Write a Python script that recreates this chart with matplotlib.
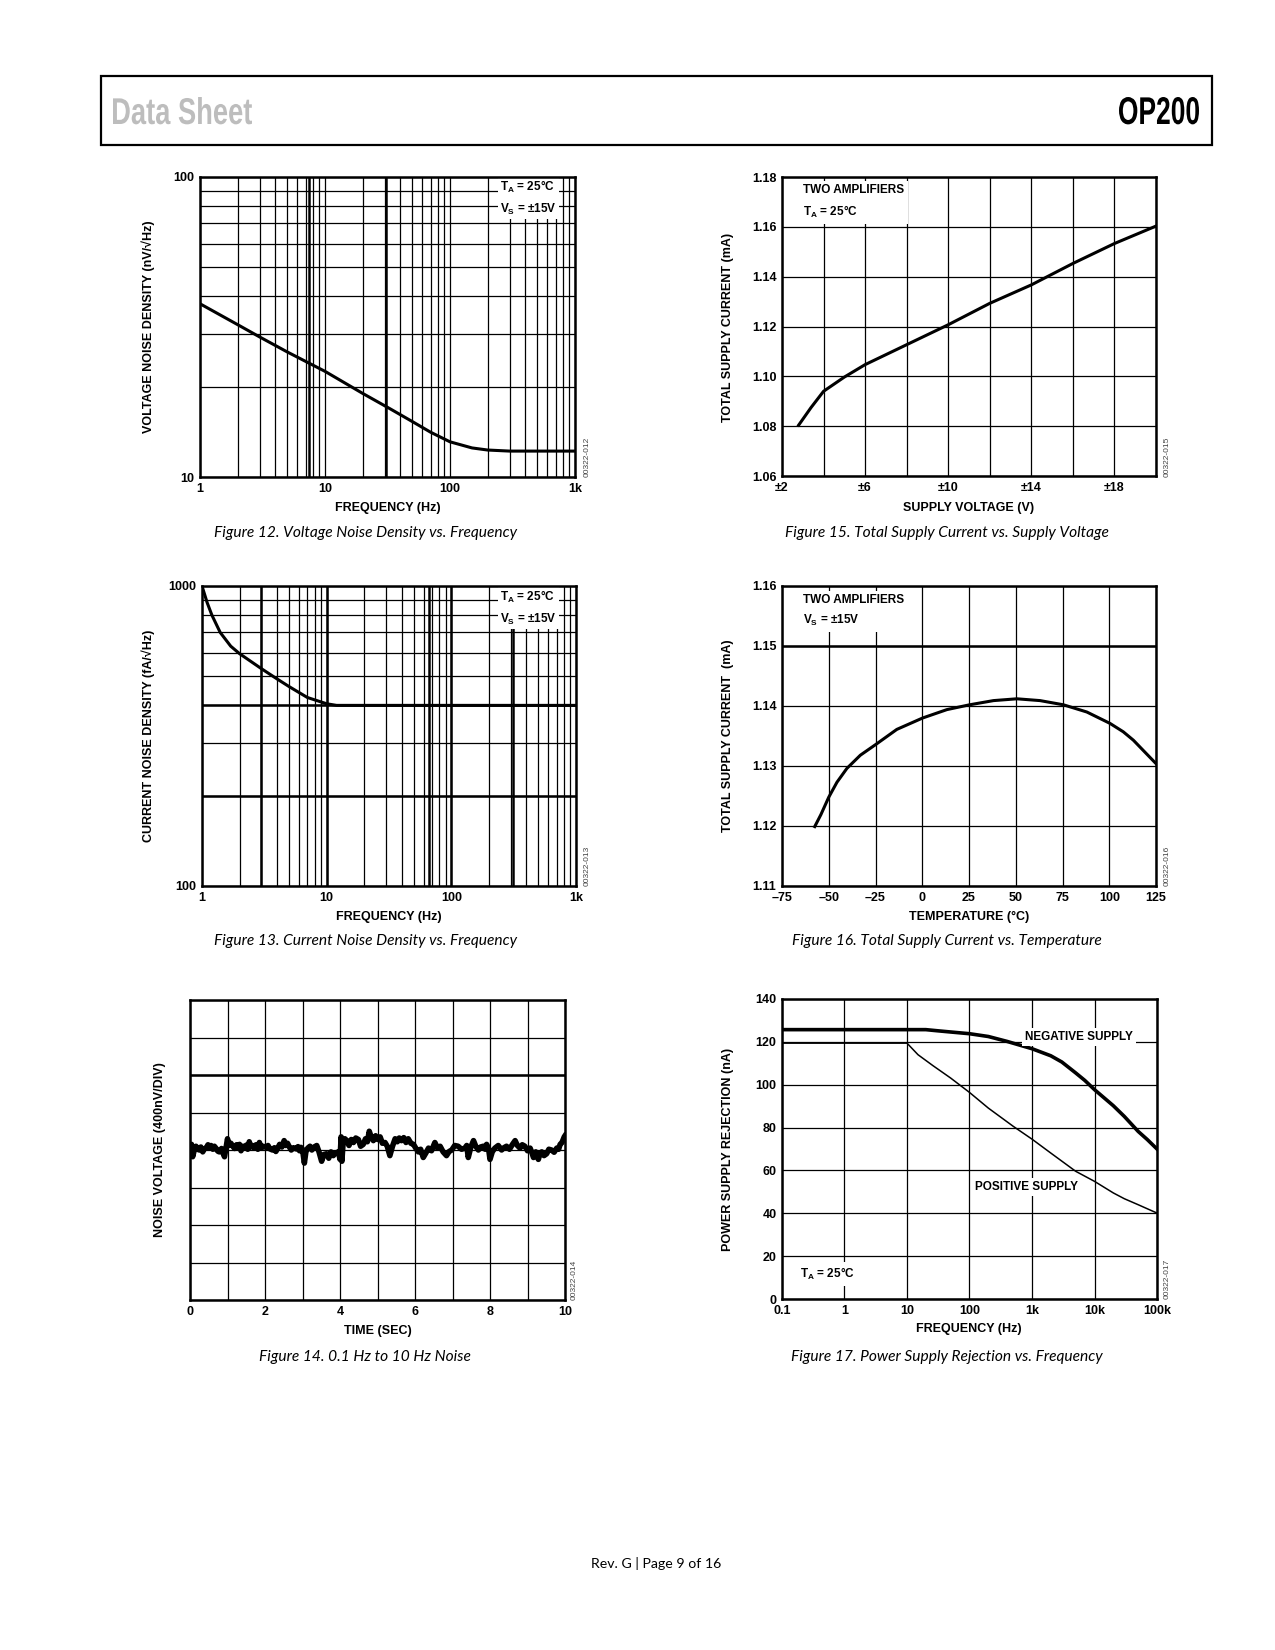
import numpy as np
import matplotlib
matplotlib.use('Agg')
import matplotlib.pyplot as plt
from matplotlib.ticker import LogLocator, NullFormatter, MultipleLocator
from matplotlib.textpath import TextPath
from matplotlib.patches import PathPatch, Rectangle
from matplotlib.font_manager import FontProperties
from matplotlib.transforms import Affine2D

W, H = 1275, 1650

plt.rcParams['font.family'] = ['Liberation Sans', 'DejaVu Sans']
plt.rcParams['mathtext.fontset'] = 'custom'
plt.rcParams['mathtext.rm'] = 'Liberation Sans:bold'
plt.rcParams['mathtext.bf'] = 'Liberation Sans:bold'
plt.rcParams['mathtext.it'] = 'Liberation Sans:bold'

# Figure 12 - voltage noise density
vn_freq = [1, 2, 3, 5, 8, 10, 20, 33, 50, 70, 100, 150, 200, 300, 500, 1000]
vn_dens = [37.8, 32.2, 29.3, 26.1, 23.6, 22.5, 19.0, 16.9, 15.3, 14.1, 13.1, 12.5, 12.3, 12.2, 12.2, 12.2]

# Figure 13 - current noise density
in_freq = [1, 1.1, 1.2, 1.4, 1.7, 2, 3, 4, 5, 7, 10, 12, 20, 100, 1000]
in_dens = [1000, 880, 800, 700, 630, 595, 530, 490, 462, 425, 405, 400, 400, 400, 400]

# Figure 14 - 0.1 Hz to 10 Hz noise (in divisions)
noise_t = [0.00, 0.04, 0.07, 0.11, 0.16, 0.20, 0.25, 0.29, 0.34, 0.38,
           0.43, 0.48, 0.52, 0.56, 0.61, 0.65, 0.69, 0.74, 0.78, 0.84,
           0.88, 0.92, 0.96, 1.00, 1.04, 1.09, 1.14, 1.19, 1.24, 1.28,
           1.32, 1.36, 1.41, 1.45, 1.50, 1.54, 1.58, 1.62, 1.67, 1.72,
           1.76, 1.81, 1.85, 1.90, 1.95, 2.03, 2.08, 2.13, 2.20, 2.25,
           2.29, 2.34, 2.39, 2.45, 2.51, 2.55, 2.60, 2.65, 2.70, 2.76,
           2.83, 2.88, 2.92, 2.96, 3.00, 3.05, 3.09, 3.14, 3.20, 3.25,
           3.31, 3.38, 3.44, 3.51, 3.57, 3.64, 3.70, 3.76, 3.82, 3.88,
           3.96, 4.00, 4.03, 4.05, 4.08, 4.13, 4.18, 4.24, 4.30, 4.36,
           4.42, 4.49, 4.55, 4.62, 4.68, 4.73, 4.78, 4.83, 4.89, 4.95,
           5.01, 5.07, 5.13, 5.20, 5.26, 5.33, 5.40, 5.47, 5.53, 5.58,
           5.64, 5.70, 5.76, 5.82, 5.89, 5.96, 6.02, 6.09, 6.15, 6.22,
           6.29, 6.36, 6.44, 6.53, 6.60, 6.67, 6.75, 6.84, 6.91, 6.98,
           7.06, 7.15, 7.24, 7.33, 7.38, 7.42, 7.49, 7.56, 7.62, 7.69,
           7.75, 7.82, 7.87, 7.91, 7.96, 8.00, 8.06, 8.13, 8.22, 8.31,
           8.37, 8.44, 8.52, 8.60, 8.67, 8.73, 8.80, 8.86, 8.93, 9.00,
           9.07, 9.12, 9.16, 9.22, 9.29, 9.33, 9.38, 9.44, 9.51, 9.57,
           9.64, 9.71, 9.78, 9.83, 9.87, 9.92, 9.98, 10.0]
noise_v = [0.09, 0.15, -0.18, -0.02, 0.10, 0.02, 0.00, 0.08, -0.05, 0.03,
           0.05, 0.14, 0.06, 0.12, 0.02, 0.10, 0.05, -0.03, -0.05, 0.04,
           -0.08, -0.18, 0.05, 0.30, 0.12, 0.18, 0.10, 0.04, 0.14, 0.06,
           0.15, -0.02, 0.10, 0.05, 0.13, 0.02, 0.22, 0.08, 0.12, 0.05,
           0.14, 0.02, 0.20, 0.06, 0.10, 0.07, 0.12, 0.03, 0.00, 0.06,
           -0.04, 0.05, 0.15, 0.08, 0.25, 0.12, 0.18, 0.08, 0.00, 0.06,
           0.03, 0.09, -0.02, 0.07, 0.02, -0.35, -0.05, 0.05, 0.10, 0.00,
           0.08, 0.12, -0.05, -0.30, -0.12, -0.10, -0.22, -0.05, -0.15, -0.08,
           -0.05, -0.25, 0.35, -0.30, 0.15, 0.30, 0.25, 0.12, 0.28, 0.20,
           0.32, 0.28, 0.10, 0.15, 0.30, 0.22, 0.50, 0.35, 0.25, 0.38,
           0.28, 0.35, 0.18, 0.20, 0.10, -0.15, 0.10, 0.30, 0.22, 0.32,
           0.25, 0.33, 0.20, 0.30, 0.18, 0.15, 0.05, -0.05, 0.02, -0.20,
           -0.08, 0.05, -0.02, 0.20, 0.05, 0.10, -0.05, -0.15, -0.04, 0.00,
           0.12, 0.10, 0.02, 0.05, 0.12, -0.20, 0.08, 0.25, 0.10, 0.00,
           0.08, 0.10, 0.02, 0.15, 0.05, -0.25, -0.05, 0.05, 0.12, 0.00,
           0.06, 0.10, 0.02, 0.15, 0.25, 0.12, 0.05, 0.14, 0.10, -0.02,
           0.05, -0.08, -0.20, -0.05, -0.25, -0.10, -0.05, -0.15, -0.10, 0.02,
           0.00, -0.06, 0.05, 0.02, 0.15, 0.20, 0.35, 0.38]

# Figure 15 - supply current vs supply voltage
vs_volt = [2.8, 3.4, 4, 5, 6, 8, 10, 12, 14, 16, 18, 20]
vs_curr = [1.0804, 1.0875, 1.094, 1.0997, 1.1047, 1.1127, 1.1207, 1.1293, 1.1367, 1.1453, 1.1533, 1.1603]

# Figure 16 - supply current vs temperature
tc_temp = [-57.5, -54.2, -50, -45.6, -40.3, -33.1, -24.8, -13.6, 0.2, 13.2, 25.3, 38.1,
           50.6, 63.0, 75.5, 88.0, 100.4, 107.5, 112.9, 119.1, 125]
tc_curr = [1.1199, 1.1219, 1.1248, 1.1273, 1.1296, 1.1318, 1.1336, 1.1361, 1.1380, 1.1394, 1.1402, 1.1409,
           1.1412, 1.1409, 1.1402, 1.1390, 1.1371, 1.1357, 1.1343, 1.1323, 1.1304]

# Figure 17 - power supply rejection
neg_freq = [0.1, 1, 10, 20, 30, 50, 100, 200, 400, 1000, 2000, 3000, 5000, 7000, 10000, 20000,
            30000, 50000, 70000, 100000]
neg_psr = [125.7, 125.7, 125.7, 125.7, 125.2, 124.6, 123.8, 122.5, 120.2, 116.8, 113.5, 110.6, 105.5, 102.0,
           97.7, 90.2, 85.2, 78.2, 74.4, 70.0]
pos_freq = [0.1, 1, 10, 15, 26, 50, 100, 200, 500, 1000, 2000, 5000, 10000, 20000, 30000, 50000, 100000]
pos_psr = [119.4, 119.4, 119.4, 114.0, 108.9, 103.1, 96.4, 89.1, 80.6, 74.6, 68.1, 59.6, 54.9, 49.5, 46.8,
           44.0, 40.1]

fig = plt.figure(figsize=(W / 100, H / 100), dpi=100)


def new_axes(l, t, r, b):
    ax = fig.add_axes([l / W, 1 - b / H, (r - l) / W, (b - t) / H])
    for s in ax.spines.values():
        s.set_linewidth(1.8)
        s.set_zorder(5)
    ax.tick_params(which='both', length=0, labelsize=9, pad=4)
    ax.set_axisbelow(True)
    return ax


def bold_ticks(ax):
    for lab in ax.get_xticklabels() + ax.get_yticklabels():
        lab.set_fontweight('bold')


def ftext(x, y, s, **kw):
    return fig.text(x / W, 1 - y / H, s, **kw)


def pxtext(ax, rect, x, y, s, **kw):
    l, t, r, b = rect
    return ax.text((x - l) / (r - l), (b - y) / (b - t), s, transform=ax.transAxes, **kw)


grid_kw = dict(color='black', linewidth=0.9)
lab_kw = dict(fontsize=9, fontweight='bold', ha='center', va='center')
cap_kw = dict(fontsize=11.2, style='italic', family=['Lato', 'DejaVu Sans'], ha='center', va='center')
id_kw = dict(fontsize=6, rotation=90, color='#444444', ha='center', va='bottom')
box_kw = dict(facecolor='white', edgecolor='none', pad=1.5)
ann_kw = dict(fontsize=8.5, fontweight='bold', va='center', ha='left', linespacing=1.6)


def log_grid(ax, axis):
    loc = LogLocator(base=10, subs=np.arange(2, 10), numticks=30)
    if axis == 'x':
        ax.xaxis.set_minor_locator(loc)
        ax.xaxis.set_minor_formatter(NullFormatter())
    else:
        ax.yaxis.set_minor_locator(loc)
        ax.yaxis.set_minor_formatter(NullFormatter())


# ---------- Figure 12 ----------
R12 = (200, 177, 575, 477)
ax = new_axes(*R12)
ax.set_xscale('log')
ax.set_yscale('log')
ax.set_xlim(1, 1000)
ax.set_ylim(10, 100)
log_grid(ax, 'x')
log_grid(ax, 'y')
ax.set_xticks([1, 10, 100, 1000])
ax.set_xticklabels(['1', '10', '100', '1k'])
ax.set_yticks([10, 100])
ax.set_yticklabels(['10', '100'])
ax.grid(True, which='both', **grid_kw)
for xv in [7.5, 31]:
    ax.axvline(xv, color='black', linewidth=1.8, zorder=1)
ax.plot(vn_freq, vn_dens, color='black', linewidth=2.2, zorder=3)
pxtext(ax, R12, 500, 198, r'$\mathrm{T_A}$ = 25°C' + '\n' + r'$\mathrm{V_S}$ = ±15V', bbox=box_kw, **ann_kw)
bold_ticks(ax)
ftext(148, 327, 'VOLTAGE NOISE DENSITY (nV/√Hz)', rotation=90, **lab_kw)
ftext(388, 508, 'FREQUENCY (Hz)', **lab_kw)
ftext(587, 477, '00322-012', **id_kw)
ftext(365, 533, 'Figure 12. Voltage Noise Density vs. Frequency', **cap_kw)

# ---------- Figure 15 ----------
R15 = (782, 177, 1156, 476)
ax = new_axes(*R15)
ax.set_xlim(2, 20)
ax.set_ylim(1.06, 1.18)
ax.set_xticks([2, 6, 10, 14, 18])
ax.set_xticklabels(['±2', '±6', '±10', '±14', '±18'])
ax.xaxis.set_minor_locator(MultipleLocator(2))
ax.set_yticks(np.arange(1.06, 1.181, 0.02))
ax.set_yticklabels(['1.06', '1.08', '1.10', '1.12', '1.14', '1.16', '1.18'])
ax.grid(True, which='both', **grid_kw)
ax.plot(vs_volt, vs_curr, color='black', linewidth=2.2, zorder=3)
pxtext(ax, R15, 803, 202, 'TWO AMPLIFIERS\n' + r'$\mathrm{T_A}$ = 25°C', bbox=dict(facecolor='white', edgecolor='none', pad=3), **ann_kw)
bold_ticks(ax)
ftext(728, 327, 'TOTAL SUPPLY CURRENT (mA)', rotation=90, **lab_kw)
ftext(969, 508, 'SUPPLY VOLTAGE (V)', **lab_kw)
ftext(1167, 477, '00322-015', **id_kw)
ftext(947, 533, 'Figure 15. Total Supply Current vs. Supply Voltage', **cap_kw)

# ---------- Figure 13 ----------
R13 = (202, 586, 576, 886)
ax = new_axes(*R13)
ax.set_xscale('log')
ax.set_yscale('log')
ax.set_xlim(1, 1000)
ax.set_ylim(100, 1000)
log_grid(ax, 'x')
log_grid(ax, 'y')
ax.set_xticks([1, 10, 100, 1000])
ax.set_xticklabels(['1', '10', '100', '1k'])
ax.set_yticks([100, 1000])
ax.set_yticklabels(['100', '1000'])
ax.grid(True, which='both', **grid_kw)
for xv in [3, 10, 66, 100, 313]:
    ax.axvline(xv, color='black', linewidth=1.8, zorder=1)
for yv in [200, 400]:
    ax.axhline(yv, color='black', linewidth=1.8, zorder=1)
ax.plot(in_freq, in_dens, color='black', linewidth=2.2, zorder=3)
pxtext(ax, R13, 500, 608, r'$\mathrm{T_A}$ = 25°C' + '\n' + r'$\mathrm{V_S}$ = ±15V', bbox=box_kw, **ann_kw)
bold_ticks(ax)
ftext(148, 736, 'CURRENT NOISE DENSITY (fA/√Hz)', rotation=90, **lab_kw)
ftext(389, 917, 'FREQUENCY (Hz)', **lab_kw)
ftext(587, 886, '00322-013', **id_kw)
ftext(366, 941, 'Figure 13. Current Noise Density vs. Frequency', **cap_kw)

# ---------- Figure 16 ----------
R16 = (782, 586, 1156, 886)
ax = new_axes(*R16)
ax.set_xlim(-75, 125)
ax.set_ylim(1.11, 1.16)
ax.set_xticks(np.arange(-75, 126, 25))
ax.set_xticklabels(['–75', '–50', '–25', '0', '25', '50', '75', '100', '125'])
ax.set_yticks(np.arange(1.11, 1.1601, 0.01))
ax.set_yticklabels(['1.11', '1.12', '1.13', '1.14', '1.15', '1.16'])
ax.grid(True, which='both', **grid_kw)
ax.axhline(1.15, color='black', linewidth=1.8, zorder=1)
ax.plot(tc_temp, tc_curr, color='black', linewidth=2.2, zorder=3)
pxtext(ax, R16, 803, 611, 'TWO AMPLIFIERS\n' + r'$\mathrm{V_S}$ = ±15V', bbox=dict(facecolor='white', edgecolor='none', pad=3), **ann_kw)
bold_ticks(ax)
ftext(728, 736, 'TOTAL SUPPLY CURRENT  (mA)', rotation=90, **lab_kw)
ftext(969, 917, 'TEMPERATURE (°C)', **lab_kw)
ftext(1167, 886, '00322-016', **id_kw)
ftext(947, 941, 'Figure 16. Total Supply Current vs. Temperature', **cap_kw)

# ---------- Figure 14 ----------
R14 = (190, 1000, 565, 1300)
ax = new_axes(*R14)
ax.set_xlim(0, 10)
ax.set_ylim(-4, 4)
ax.set_xticks(np.arange(0, 11, 2))
ax.xaxis.set_minor_locator(MultipleLocator(1))
ax.set_yticks(np.arange(-4, 5, 1))
ax.set_yticklabels([])
ax.grid(True, which='both', **grid_kw)
ax.axhline(2, color='black', linewidth=1.8, zorder=1)
ax.plot(noise_t, noise_v, color='black', linewidth=4.0, zorder=3)
bold_ticks(ax)
ftext(160, 1150, 'NOISE VOLTAGE (400nV/DIV)', rotation=90, **lab_kw)
ftext(378, 1331, 'TIME (SEC)', **lab_kw)
ftext(574, 1300, '00322-014', **id_kw)
ftext(365, 1357, 'Figure 14. 0.1 Hz to 10 Hz Noise', **cap_kw)

# ---------- Figure 17 ----------
R17 = (782, 999, 1157, 1299)
ax = new_axes(*R17)
ax.set_xscale('log')
ax.set_xlim(0.1, 100000)
ax.set_ylim(0, 140)
ax.set_xticks([0.1, 1, 10, 100, 1000, 10000, 100000])
ax.set_xticklabels(['0.1', '1', '10', '100', '1k', '10k', '100k'])
ax.xaxis.set_minor_formatter(NullFormatter())
ax.xaxis.set_minor_locator(LogLocator(base=10, subs=[], numticks=30))
ax.set_yticks(np.arange(0, 141, 20))
ax.grid(True, which='major', **grid_kw)
ax.plot(neg_freq, neg_psr, color='black', linewidth=2.6, zorder=3)
ax.plot(pos_freq, pos_psr, color='black', linewidth=1.1, zorder=3)
pxtext(ax, R17, 1025, 1037, 'NEGATIVE SUPPLY', bbox=dict(facecolor='white', edgecolor='none', pad=2.5), **ann_kw)
pxtext(ax, R17, 975, 1187, 'POSITIVE SUPPLY', bbox=dict(facecolor='white', edgecolor='none', pad=2.5), **ann_kw)
pxtext(ax, R17, 800, 1274, r'$\mathrm{T_A}$ = 25°C', bbox=dict(facecolor='white', edgecolor='none', pad=3), **ann_kw)
bold_ticks(ax)
ftext(728, 1149, 'POWER SUPPLY REJECTION (nA)', rotation=90, **lab_kw)
ftext(969, 1329, 'FREQUENCY (Hz)', **lab_kw)
ftext(1167, 1299, '00322-017', **id_kw)
ftext(947, 1357, 'Figure 17. Power Supply Rejection vs. Frequency', **cap_kw)

# ---------- page header / footer ----------
ov = fig.add_axes([0, 0, 1, 1], zorder=-1)
ov.set_xlim(0, W)
ov.set_ylim(0, H)
ov.axis('off')
ov.add_patch(Rectangle((101, H - 145), 1111, 69, fill=False, edgecolor='black', linewidth=1.6))


def squeezed(s, x, y_base, cap, width, color, right=False):
    tp = TextPath((0, 0), s, size=100, prop=FontProperties(family='Liberation Sans', weight='bold'))
    bb = tp.get_extents()
    sx = width / bb.width
    sy = cap / bb.y1
    x0 = x - width if right else x
    tr = Affine2D().translate(-bb.x0, 0).scale(sx, sy).translate(x0, H - y_base)
    ov.add_patch(PathPatch(tp, transform=tr + ov.transData, facecolor=color, edgecolor='none'))


squeezed('Data Sheet', 113, 124, 27, 139, '#bdbdbd')
squeezed('OP200', 1199, 124, 27, 80, 'black', right=True)

ftext(656, 1564, 'Rev. G | Page 9 of 16', fontsize=10.2, family=['Lato', 'DejaVu Sans'], ha='center', va='center')

fig.savefig('out.png', dpi=100)
